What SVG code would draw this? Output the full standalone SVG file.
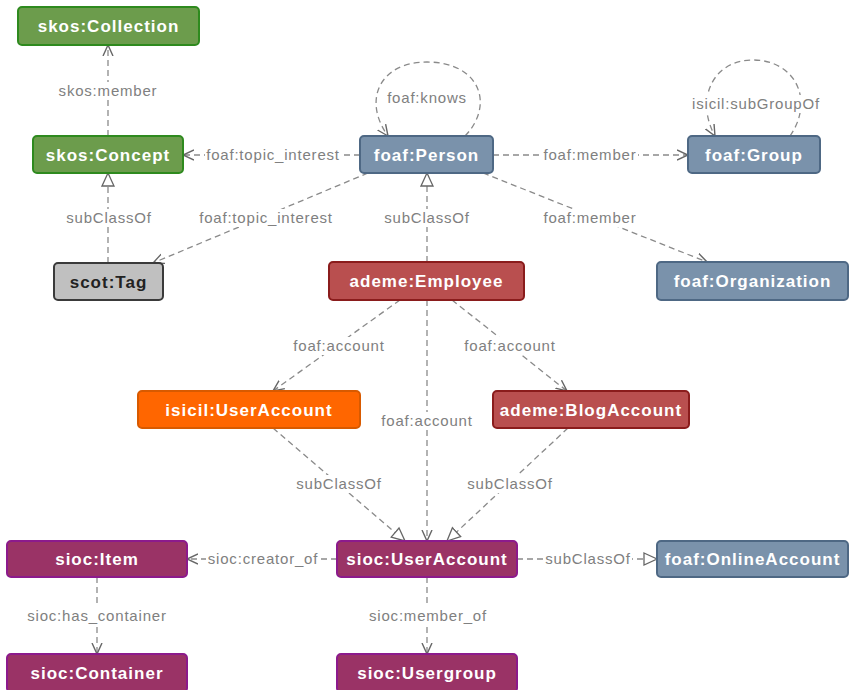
<svg xmlns="http://www.w3.org/2000/svg" width="850" height="690" viewBox="0 0 850 690">
<style>
.node rect{stroke-width:2}
.node text{font-family:"Liberation Sans",Arial,sans-serif;font-weight:bold;font-size:17px;letter-spacing:1px;fill:#fff;text-anchor:middle}
.green rect{fill:#6c9c4c;stroke:#2e8a1e}
.blue rect{fill:#7a92ab;stroke:#4e6884}
.red rect{fill:#b94f4f;stroke:#8a1c1c}
.orange rect{fill:#ff6600;stroke:#d85a00}
.purple rect{fill:#9a3366;stroke:#8c1a8c}
.gray rect{fill:#c0c0c0;stroke:#3a3a3a}
.gray text{fill:#222}
.edge{fill:none;stroke:#8a8a8a;stroke-width:1.3;stroke-dasharray:6 4}
.lbl rect{fill:#fff}
.lbl text{font-family:"Liberation Sans",Arial,sans-serif;font-size:15px;letter-spacing:0.8px;fill:#808080;text-anchor:middle}
</style>
<defs>
<marker id="open" viewBox="0 0 12 12" refX="11" refY="6" markerWidth="12" markerHeight="12" markerUnits="userSpaceOnUse" orient="auto">
<path d="M0,1 L11,6 L0,11" fill="none" stroke="#666" stroke-width="1.4"/>
</marker>
<marker id="tri" viewBox="0 0 15 15" refX="14" refY="7.5" markerWidth="15" markerHeight="15" markerUnits="userSpaceOnUse" orient="auto">
<path d="M1,1.5 L14,7.5 L1,13.5 Z" fill="#fff" stroke="#666" stroke-width="1.3"/>
</marker>
</defs>
<g id="connectors">
<path class="edge" d="M108,136 L108,45" marker-end="url(#open)"/>
<path class="edge" d="M108,263 L108,173" marker-end="url(#tri)"/>
<path class="edge" d="M360,155 L183,155" marker-end="url(#open)"/>
<path class="edge" d="M368,173 L153,263" marker-end="url(#open)"/>
<path class="edge" d="M465,136 C495,105 480,62 427,62 C380,62 362,100 388,136" marker-end="url(#open)"/>
<path class="edge" d="M493,155 L688,155" marker-end="url(#open)"/>
<path class="edge" d="M483,173 L707,262" marker-end="url(#open)"/>
<path class="edge" d="M427,262 L427,173" marker-end="url(#tri)"/>
<path class="edge" d="M790,136 C815,100 795,60 753,60 C712,60 695,100 715,136" marker-end="url(#open)"/>
<path class="edge" d="M400,300 L273,391" marker-end="url(#open)"/>
<path class="edge" d="M452,300 L567,391" marker-end="url(#open)"/>
<path class="edge" d="M427,300 L427,541" marker-end="url(#open)"/>
<path class="edge" d="M273,428 L405,541" marker-end="url(#tri)"/>
<path class="edge" d="M568,428 L447,541" marker-end="url(#tri)"/>
<path class="edge" d="M337,559 L187,559" marker-end="url(#open)"/>
<path class="edge" d="M517,559 L657,559" marker-end="url(#tri)"/>
<path class="edge" d="M427,577 L427,654" marker-end="url(#open)"/>
<path class="edge" d="M97,577 L97,654" marker-end="url(#open)"/>
</g>
<g id="edge-labels">
<g class="lbl"><rect x="58" y="82" width="100" height="18"/><text x="108" y="96">skos:member</text></g>
<g class="lbl"><rect x="66" y="209" width="86" height="18"/><text x="109" y="223">subClassOf</text></g>
<g class="lbl"><rect x="205" y="146" width="136" height="18"/><text x="273" y="160">foaf:topic_interest</text></g>
<g class="lbl"><rect x="198" y="209" width="136" height="18"/><text x="266" y="223">foaf:topic_interest</text></g>
<g class="lbl"><text x="427" y="103">foaf:knows</text></g>
<g class="lbl"><rect x="542" y="146" width="96" height="18"/><text x="590" y="160">foaf:member</text></g>
<g class="lbl"><rect x="542" y="209" width="96" height="18"/><text x="590" y="223">foaf:member</text></g>
<g class="lbl"><rect x="384" y="209" width="86" height="18"/><text x="427" y="223">subClassOf</text></g>
<g class="lbl"><rect x="692" y="95" width="130" height="18"/><text x="756" y="109">isicil:subGroupOf</text></g>
<g class="lbl"><rect x="292" y="337" width="95" height="18"/><text x="339" y="351">foaf:account</text></g>
<g class="lbl"><rect x="463" y="337" width="95" height="18"/><text x="510" y="351">foaf:account</text></g>
<g class="lbl"><rect x="380" y="412" width="95" height="18"/><text x="427" y="426">foaf:account</text></g>
<g class="lbl"><rect x="296" y="475" width="86" height="18"/><text x="339" y="489">subClassOf</text></g>
<g class="lbl"><rect x="467" y="475" width="86" height="18"/><text x="510" y="489">subClassOf</text></g>
<g class="lbl"><rect x="206" y="550" width="114" height="18"/><text x="263" y="564">sioc:creator_of</text></g>
<g class="lbl"><rect x="545" y="550" width="87" height="18"/><text x="588" y="564">subClassOf</text></g>
<g class="lbl"><rect x="368" y="607" width="120" height="18"/><text x="428" y="621">sioc:member_of</text></g>
<g class="lbl"><rect x="27" y="607" width="142" height="18"/><text x="97" y="621">sioc:has_container</text></g>
</g>
<g id="skos-collection" class="node green"><rect x="18" y="7" width="181" height="38" rx="4"/><text x="108.5" y="32">skos:Collection</text></g>
<g id="skos-concept" class="node green"><rect x="33" y="136" width="150" height="37" rx="4"/><text x="108" y="160.5">skos:Concept</text></g>
<g id="scot-tag" class="node gray"><rect x="54" y="263" width="109" height="37" rx="4"/><text x="108.5" y="287.5">scot:Tag</text></g>
<g id="foaf-person" class="node blue"><rect x="360" y="136" width="133" height="37" rx="4"/><text x="426.5" y="160.5">foaf:Person</text></g>
<g id="foaf-group" class="node blue"><rect x="688" y="136" width="132" height="37" rx="4"/><text x="754" y="160.5">foaf:Group</text></g>
<g id="ademe-employee" class="node red"><rect x="329" y="262" width="195" height="38" rx="4"/><text x="426.5" y="287">ademe:Employee</text></g>
<g id="foaf-organization" class="node blue"><rect x="657" y="262" width="191" height="38" rx="4"/><text x="752.5" y="287">foaf:Organization</text></g>
<g id="isicil-useraccount" class="node orange"><rect x="138" y="391" width="222" height="37" rx="4"/><text x="249" y="415.5">isicil:UserAccount</text></g>
<g id="ademe-blogaccount" class="node red"><rect x="493" y="391" width="196" height="37" rx="4"/><text x="591" y="415.5">ademe:BlogAccount</text></g>
<g id="sioc-item" class="node purple"><rect x="7" y="541" width="180" height="36" rx="4"/><text x="97" y="565">sioc:Item</text></g>
<g id="sioc-useraccount" class="node purple"><rect x="337" y="541" width="180" height="36" rx="4"/><text x="427" y="565">sioc:UserAccount</text></g>
<g id="foaf-onlineaccount" class="node blue"><rect x="657" y="541" width="191" height="36" rx="4"/><text x="752.5" y="565">foaf:OnlineAccount</text></g>
<g id="sioc-container" class="node purple"><rect x="7" y="654" width="180" height="38" rx="4"/><text x="97" y="679">sioc:Container</text></g>
<g id="sioc-usergroup" class="node purple"><rect x="337" y="654" width="180" height="38" rx="4"/><text x="427" y="679">sioc:Usergroup</text></g>
</svg>
